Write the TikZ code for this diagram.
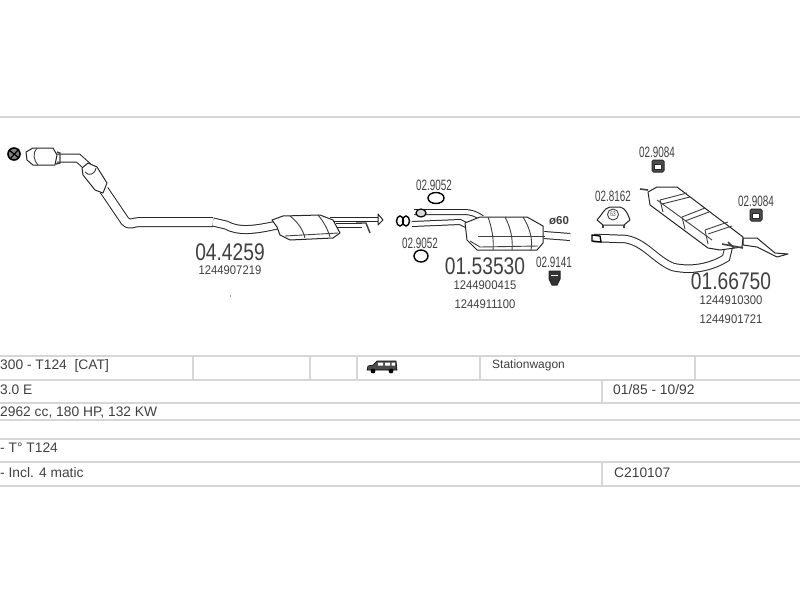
\documentclass[tikz,border=0pt]{standalone}
\usepackage{fontspec}
\setmainfont{Liberation Sans}
\newfontfamily\partfont[FakeStretch=0.8]{Liberation Sans}
\newfontfamily\oemfont[FakeStretch=0.9]{Liberation Sans}
\newfontfamily\smallfont[FakeStretch=0.66]{Liberation Sans}
\usetikzlibrary {positioning}
\definecolor {rulegrey}{gray}{0.84}
\definecolor {inkgrey}{gray}{0.25}

\begin{document}
\begin{tikzpicture}[x=1pt,y=-1pt,node distance =19pt and 10pt,on grid,
partnum/.style ={font=\partfont\fontsize{24}{24}\selectfont,text=inkgrey,inner sep=0pt},
oemnum/.style ={font=\oemfont\fontsize{12.5}{12.5}\selectfont,text=inkgrey,inner sep=0pt},
hangnum/.style ={font=\smallfont\fontsize{15}{15}\selectfont,text=inkgrey,inner sep=0pt},
rowtext/.style ={font=\fontsize{13.8}{13.8}\selectfont,text=inkgrey,anchor=west,inner sep=0pt},
tablerule/.style ={draw=rulegrey,line width=1.6pt},
pipe/.style ={draw=black!85,double=white,double distance=8pt,line width=1pt},
thinpipe/.style ={draw=black!85,double=white,double distance=5pt,line width=1pt},
silencer/.style ={draw=black!85,fill=white,line width=1pt,line join=round},
seam/.style ={draw=black!75,line width=.9pt}]
\useasboundingbox[fill=white] (0,0) rectangle (800,600);

% rules of the table
\draw[tablerule] (0,117) -- (800,117);
\draw[tablerule] (0,356) -- (800,356);
\draw[tablerule] (0,380) -- (800,380);
\draw[tablerule] (0,403) -- (800,403);
\draw[tablerule] (0,420) -- (800,420);
\draw[tablerule] (0,439) -- (800,439);
\draw[tablerule] (0,462) -- (800,462);
\draw[tablerule] (0,486) -- (800,486);
\draw[tablerule] (193,356) -- (193,380);
\draw[tablerule] (310,356) -- (310,380);
\draw[tablerule] (357,356) -- (357,380);
\draw[tablerule] (480,356) -- (480,380);
\draw[tablerule] (695,356) -- (695,380);
\draw[tablerule] (602,380) -- (602,403);
\draw[tablerule] (602,462) -- (602,486);

% front section
\draw[thinpipe,double distance=7pt] (57,158) -- (78,158) -- (88,167);
\draw[pipe] (104,190) -- (125,221) .. controls (130,226) and (133,222) .. (140,222) -- (213,222);
\draw[thinpipe,double distance=7pt] (213,222) -- (226,225) .. controls (238,232) and (255,230) .. (277,225);
\draw[thinpipe,double distance=3pt] (330,219) -- (378,219);
\draw[thinpipe,double distance=3pt] (336,225) -- (362,225);
\draw[silencer] (26,152) -- (33,148) -- (53,148) -- (57,155) -- (55,165) -- (33,165) -- (27,160) -- cycle;
\draw[seam] (37,148) .. controls (32,153) and (34,161) .. (38,165);
\draw[seam,line width=1.4pt] (57,152) -- (60,153) -- (60,163) -- (56,164);
\draw[silencer] (82,168) -- (88,163) -- (97,167) -- (107,183) -- (103,193) -- (95,190) -- (83,175) -- cycle;
\draw[seam] (85,172) .. controls (88,176) and (95,175) .. (96,168);
\draw[draw=black,fill=black!50,line width=1.6pt] (14,154) circle (6pt);
\draw[draw=black,line width=1.2pt] (9,150) -- (19,158) (19,149) -- (10,159);
\draw[silencer] (272,220) -- (283,216) -- (320,215) -- (333,220) -- (340,233) -- (333,238) -- (290,240) -- (280,235) -- (277,227) -- cycle;
\draw[seam] (290,216) .. controls (298,222) and (303,230) .. (305,238);
\draw[seam] (318,215) .. controls (324,222) and (328,230) .. (330,237);
\draw[seam] (285,236) -- (338,233);
\draw[silencer] (378,214) -- (383,220) -- (378,225) -- cycle;
\draw[seam,line width=1.4pt] (356,223) -- (366,223) -- (370,233);
\fill[black!70] (230.5,296) circle (.7pt);

% centre section
\draw[thinpipe,double distance=4pt] (414,212) -- (463,212) .. controls (472,212) and (476,214) .. (482,218);
\draw[thinpipe,double distance=4pt] (412,224) -- (460,222) -- (468,226);
\draw[thinpipe,double distance=6pt] (544,235) -- (570,237);
\draw[silencer] (465,223) -- (480,217) -- (527,217) -- (543,226) -- (543,243) -- (537,250) -- (477,250) -- (467,240) -- cycle;
\draw[seam] (488,217) .. controls (492,228) and (494,240) .. (493,250);
\draw[seam] (505,217) .. controls (511,228) and (513,240) .. (512,250);
\draw[seam] (523,217) .. controls (530,228) and (533,240) .. (531,250);
\draw[seam] (478,236) -- (545,236);
\draw[seam] (470,241) -- (480,247) -- (538,246);
\draw[draw=black,line width=1.4pt] (400,221) ellipse (3.5pt and 5pt);
\draw[draw=black,line width=1.4pt] (406,221) ellipse (3.5pt and 5pt);
\draw[draw=black,fill=black!15,line width=1.2pt] (421,213) ellipse (5pt and 4pt);
\draw[draw=black,line width=1.4pt] (436,198) ellipse (8pt and 5.5pt);
\draw[draw=black,line width=1.4pt] (421,256) ellipse (7pt and 6pt);
\draw[silencer,fill=black!80] (549,271) -- (560,271) -- (560,279) -- (557,285) -- (552,285) -- (549,279) -- cycle;
\draw[white,line width=.8pt] (551,275) -- (558,275);

% rear section
\draw[thinpipe,double distance=6.5pt] (594,238) -- (625,239) .. controls (645,242) and (655,260) .. (673,267) .. controls (695,272) and (715,265) .. (726,258) -- (729,246);
\draw[silencer] (743,238) -- (757,238) -- (775,253) -- (788,254) -- (777,257) -- (757,247) -- (743,245) -- cycle;
\draw[silencer] (648,192) -- (657,187) -- (677,187) -- (743,237) -- (742,247) -- (720,250) -- (708,248) -- (650,205) -- cycle;
\draw[seam] (657,200) -- (712,240);
\draw[seam] (660,200) -- (687,193) (662,204) -- (690,197) (660,200) -- (663,212);
\draw[seam] (682,217) -- (705,208) (685,221) -- (709,212) (682,217) -- (685,229);
\draw[seam] (705,230) -- (728,222) (708,234) -- (732,226) (705,230) -- (708,244);
\draw[seam,line width=1.6pt] (640,189) -- (648,190);
\draw[seam,line width=1.6pt] (722,244) -- (743,248) (728,242) -- (734,248);
\draw[draw=black,line width=1.3pt] (592,235) -- (600,236) -- (601,242) -- (592,241) -- cycle;
\draw[silencer] (597,220) .. controls (602,215) and (604,208) .. (610,207) -- (620,207) .. controls (626,208) and (628,215) .. (630,220) -- (624,225) -- (603,225) -- cycle;
\draw[seam,line width=1.6pt] (603,225) -- (603,228) (624,225) -- (624,228);
\draw[silencer,rounded corners=1.5pt,fill=black!70] (652,160) rectangle (664,172);
\draw[silencer,fill=white] (654.5,164) rectangle (661.5,169);
\draw[silencer,rounded corners=1.5pt,fill=black!70] (750,209) rectangle (762,221);
\draw[silencer,fill=white] (752.5,213) rectangle (759.5,218);

% little van
\draw[draw=black,fill=black!70,line width=.6pt] (367,370) -- (368,366) -- (373,365) -- (377,361) -- (396,361) -- (397,370) -- cycle;
\fill[white] (378,362.5) rectangle (383,365.5) (385,362.5) rectangle (390,365.5) (391.5,362.5) rectangle (395,365.5);
\fill[black] (373,371) circle (2.4pt) (391,371) circle (2.4pt);

% part numbers
\node[partnum] (front) at (230,252) {04.4259};
\node[oemnum] (frontoem) [below =of front,yshift=1pt] {1244907219};
\node[partnum] (centre) at (485,266) {01.53530};
\node[oemnum] (centreoem) [below =of centre] {1244900415};
\node[oemnum] (centreoemb) [below =of centreoem] {1244911100};
\node[partnum] (rear) at (731,281) {01.66750};
\node[oemnum] (rearoem) [below =of rear] {1244910300};
\node[oemnum] (rearoemb) [below =of rearoem] {1244901721};
\node[hangnum] (ringa) at (434,185) {02.9052};
\node[hangnum] (ringb) at (420,243) {02.9052};
\node[hangnum] (mount) at (554,262) {02.9141};
\node[hangnum] (hangera) at (657,152) {02.9084};
\node[hangnum] (gasket) at (613,196) {02.8162};
\node[hangnum] (hangerb) at (756,201) {02.9084};
\node[inner sep=0pt,font=\bfseries\fontsize{11.5}{11.5}\selectfont,text=inkgrey] (bore) at (559,221) {ø60};
\node[circle,draw=black!75,line width=.9pt,inner sep=.5pt,minimum size=11pt,font=\smallfont\fontsize{7}{7}\selectfont,text=inkgrey] (gasketsize) at (613,214.5) {63};

% table texts
\node[rowtext] (model) at (0,366) {300 - T124\ \ [CAT]};
\node[rowtext,font=\fontsize{12}{12}\selectfont] (body) at (492,365) {Stationwagon};
\node[rowtext] (engine) at (0,390) {3.0 E};
\node[rowtext] (years) at (613,390) {01/85 - 10/92};
\node[rowtext] (power) at (0,413) {2962 cc, 180 HP, 132 KW};
\node[rowtext] (chassis) at (0,448) {- T° T124};
\node[rowtext] (drive) at (0,473) {- Incl. 4 matic};
\node[rowtext] (code) at (614,473) {C210107};
\end{tikzpicture}
\end{document}
